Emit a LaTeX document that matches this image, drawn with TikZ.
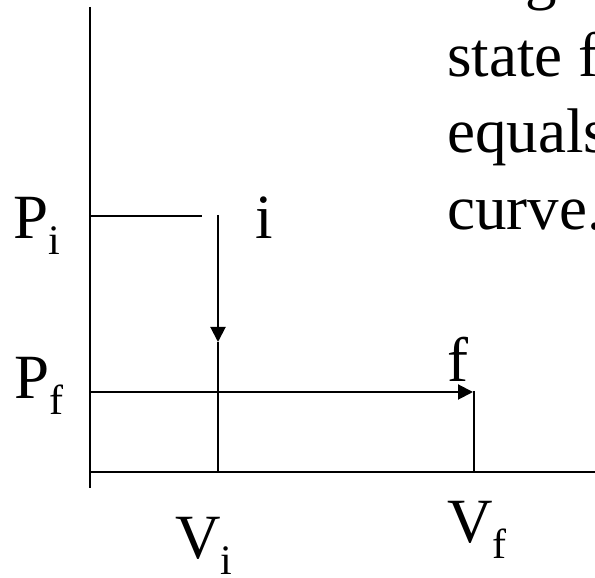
\documentclass[tikz,border=0pt]{standalone}
\usepackage{fontspec}
\setmainfont{Liberation Serif}
\usetikzlibrary{arrows.meta}
\newcommand{\subtxt}[1]{\raisebox{-16pt}{\fontsize{42}{42}\selectfont #1}}
\tikzset{
  axisline/.style={line width=2pt, black},
  pathline/.style={line width=2pt, black},
  arrowline/.style={line width=2pt, black, -{Triangle[length=15pt,width=15pt]}},
  lbl/.style={anchor=base west, inner sep=0pt, font=\fontsize{63}{76}\selectfont}
}
\begin{document}
\begin{tikzpicture}[x=1pt,y=1pt]
\useasboundingbox (0,0) rectangle (595,578);
\clip (0,0) rectangle (595,578);
% coordinates
\coordinate (Otop) at (90,571);
\coordinate (Obot) at (90,90);
\coordinate (Xend) at (600,106);
\coordinate (Oaxis) at (90,106);
\coordinate (PiL) at (90,362);
\coordinate (PiR) at (202,362);
\coordinate (iTop) at (218,363);
\coordinate (iMid) at (218,236);
\coordinate (iFoot) at (218,106);
\coordinate (PfL) at (90,186);
\coordinate (fPt) at (473,186);
\coordinate (fTop) at (474,187);
\coordinate (fFoot) at (474,106);
% axes
\draw[axisline] (Otop) -- (Obot);
\draw[axisline] (Oaxis) -- (Xend);
% P_i level
\draw[pathline] (PiL) -- (PiR);
% process i -> down
\draw[arrowline] (iTop) -- (iMid);
\draw[pathline] (iMid) -- (iFoot);
% P_f level
\draw[arrowline] (PfL) -- (fPt);
\draw[pathline] (fTop) -- (fFoot);
% labels
\node[lbl] (Pi) at (13,339) {P\subtxt{i}};
\node[lbl] (ilbl) at (255,339) {i};
\node[lbl] (Pf) at (14,179) {P\subtxt{f}};
\node[lbl] (flbl) at (447,196) {f};
\node[lbl] (Vi) at (175,19) {V\subtxt{i}};
\node[lbl] (Vf) at (447,35) {V\subtxt{f}};
% text at top right (clipped by the edge)
\node[lbl] (t0) at (525,580) {g};
\node[lbl] (t1) at (447,501) {state f};
\node[lbl] (t2) at (447,425) {equals};
\node[lbl] (t3) at (447,348) {curve.};
\end{tikzpicture}
\end{document}
